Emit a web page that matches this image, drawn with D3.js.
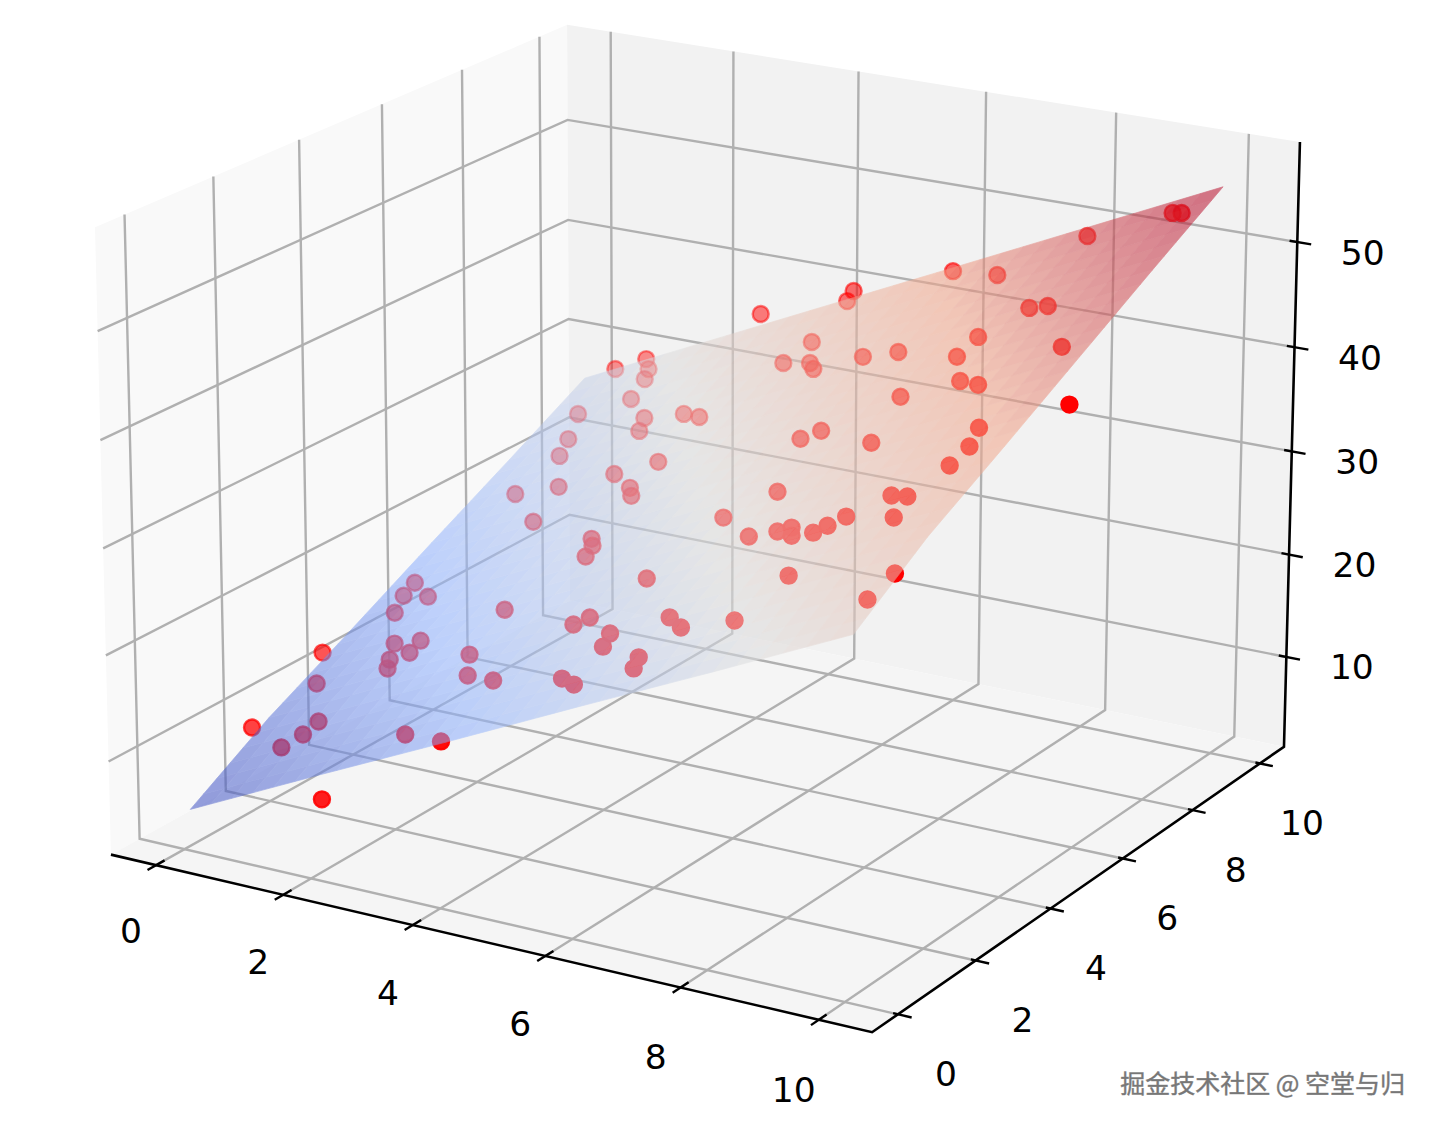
<!DOCTYPE html>
<html><head><meta charset="utf-8">
<script src="https://cdn.jsdelivr.net/npm/d3@7"></script>
<style>html,body{margin:0;padding:0;background:#fff}svg{display:block}text{font-family:"DejaVu Sans",sans-serif}</style>
</head><body><div id="chart"></div>
<script>
// ---- data ----
const xs=[9.44,9.62,8.13,5.98,6.97,8.20,8.54,4.42,4.29,2.94,4.32,4.11,4.68,4.86,5.68,6.32,7.68,7.60,9.50,8.08,8.50,7.16,10.57,6.16,5.88,
7.38,9.23,9.35,9.28,6.36,8.66,8.98,9.06,8.14,7.93,7.77,7.26,7.40,7.05,6.57,5.73,8.01,9.97,9.87,7.72,0.57,1.08,1.27,1.39,1.49,
0.61,2.17,2.32,2.96,3.35,0.91,1.06,3.34,2.63,1.67,3.24,3.42,0.86,1.82,3.40,3.55,3.61,5.27,2.92,4.82,4.62,6.41,6.80,5.51,5.60,
6.49,6.58,5.35,5.69,0.45,0.47,1.02,0.62,1.24,1.74,1.74,1.45,1.58,3.04,3.39,4.00,-0.15,0.35,1.15,1.07,0.86,-0.17,3.20,3.97,2.12];
const ys=[9.64,9.55,9.71,9.89,9.33,7.96,7.84,9.90,9.95,9.90,8.93,8.52,8.26,8.04,7.95,7.78,7.51,7.08,6.44,6.30,6.02,6.35,4.65,6.00,5.94,
5.19,4.72,4.25,3.86,4.52,3.46,3.30,2.81,3.21,3.10,3.01,3.34,3.10,3.34,3.43,4.20,1.98,1.23,0.72,1.13,9.90,9.90,9.65,9.35,8.82,
8.84,8.06,7.68,7.80,7.56,8.10,7.63,6.50,6.52,6.63,5.93,5.67,6.80,5.74,4.69,4.47,4.20,3.03,3.28,2.35,2.27,1.72,1.35,1.73,1.41,
0.83,0.56,0.82,0.56,4.89,4.58,4.34,4.13,3.18,3.05,2.78,2.74,2.49,2.23,1.64,1.30,3.52,2.63,1.48,1.23,1.03,1.85,0.44,0.10,0.10];
const zs=[53.29,53.63,49.59,43.60,45.32,46.04,46.82,39.96,38.74,36.08,36.68,35.17,36.31,36.36,38.61,40.12,43.57,42.42,46.68,42.18,42.83,39.56,46.02,35.88,34.91,
37.76,42.23,41.57,40.53,33.32,37.86,38.47,37.65,35.81,34.94,34.30,33.47,33.38,32.86,31.62,30.79,32.80,36.98,35.62,30.15,27.96,29.53,29.22,28.93,28.09,
25.54,28.47,28.11,30.28,30.90,24.84,24.28,28.62,26.57,23.95,27.13,27.10,21.94,22.53,24.95,24.93,24.53,26.94,20.54,24.17,23.43,27.53,27.88,24.88,24.47,
25.88,25.57,22.48,22.94,16.66,16.07,17.17,15.55,15.38,16.58,16.01,15.06,14.92,18.68,18.45,19.51,12.00,11.58,11.52,10.73,9.67,8.38,15.32,16.46,8.56];
const surfaceX=[0,2,4,6,8,10];
const surfaceY=[0.15,2,4,6,8,10];
const surfaceZ=[[4.6,10.5,16.3,22.2,28.0,33.9],[9.2,15.1,21.0,26.9,32.8,38.7],[13.4,19.3,25.2,31.1,37.0,42.9],[17.7,23.6,29.5,35.4,41.3,47.2],[21.9,27.8,33.7,39.6,45.6,51.5],[26.2,32.1,38.0,43.9,49.8,55.7]];
const xTicks=[0,2,4,6,8,10];
const yTicks=[0,2,4,6,8,10];
const zTicks=[10,20,30,40,50];
const xLimits=[-0.72,10.76],yLimits=[-0.65,10.73],zLimits=[1.15,59.43];
const coolwarmStops=["#3b4cc0","#8db0fe","#dddddd","#f2a488","#b40426"];
const watermark="掘金技术社区 @ 空堂与归";

// ---- scales and view ----
const W=1435,H=1126;
const nx=d3.scaleLinear().domain(xLimits).range([0,1]);
const ny=d3.scaleLinear().domain(yLimits).range([0,1]);
const nz=d3.scaleLinear().domain(zLimits).range([0,1]);
// camera matrix of the view box (unit cube -> page)
const cam=[710.3490,515.8612,-18.53119,110.9392,117.4691,-194.4145,-633.5988,854.6254,-0.05825270,0.09966016,-0.02703447];
const depth=p=>cam[8]*p[0]+cam[9]*p[1]+cam[10]*p[2]+1;
const proj=p=>{const w=depth(p);return [(cam[0]*p[0]+cam[1]*p[1]+cam[2]*p[2]+cam[3])/w,(cam[4]*p[0]+cam[5]*p[1]+cam[6]*p[2]+cam[7])/w]};
const colour=d3.scaleLinear().domain(d3.range(5).map(i=>i/4)).range(coolwarmStops).interpolate(d3.interpolateRgb);
const zExtent=d3.extent(surfaceZ.flat());
const zNorm=d3.scaleLinear().domain(zExtent).range([0,1]);
const path=d3.line();
const svg=d3.select("#chart").append("svg").attr("width",W).attr("height",H).attr("viewBox",`0 0 ${W} ${H}`);

// ---- panes ----
const panes=[
 {fill:"#f9f9f9",c:[[0,0,0],[0,1,0],[0,1,1],[0,0,1]]},
 {fill:"#f2f2f2",c:[[0,1,0],[1,1,0],[1,1,1],[0,1,1]]},
 {fill:"#f5f5f5",c:[[0,0,0],[1,0,0],[1,1,0],[0,1,0]]}];
svg.append("g").selectAll("path").data(panes).join("path").attr("d",d=>path(d.c.map(proj))+"Z").attr("fill",d=>d.fill);

// ---- grid ----
const gridSegs=[];
xTicks.forEach(t=>{const x=nx(t);gridSegs.push([[x,0,0],[x,1,0],[x,1,1]])});
yTicks.forEach(t=>{const y=ny(t);gridSegs.push([[1,y,0],[0,y,0],[0,y,1]])});
zTicks.forEach(t=>{const z=nz(t);gridSegs.push([[0,0,z],[0,1,z],[1,1,z]])});
svg.append("g").selectAll("path").data(gridSegs).join("path").attr("d",d=>path(d.map(proj))).attr("fill","none").attr("stroke","#b0b0b0").attr("stroke-width",2.4);

// ---- axes ----
const axisLines=[[[0,0,0],[1,0,0],[1,1,0],[1,1,1]]];
svg.append("g").selectAll("path").data(axisLines).join("path").attr("d",d=>path(d.map(proj))).attr("fill","none").attr("stroke","#000").attr("stroke-width",2.6);
const tickSegs=[
 ...xTicks.map(t=>[[nx(t),-0.017,0],[nx(t),0.017,0]]),
 ...yTicks.map(t=>[[0.994,ny(t),0],[1.017,ny(t),0]]),
 ...zTicks.map(t=>[[0.990,1,nz(t)],[1.018,1,nz(t)]])];
svg.append("g").selectAll("path").data(tickSegs).join("path").attr("d",d=>path(d.map(proj))).attr("stroke","#000").attr("stroke-width",2.4);

// ---- scatter (lies under the surface) ----
const pts=xs.map((x,i)=>{const p=[nx(x),ny(ys[i]),nz(zs[i])];return {xy:proj(p),w:depth(p)}});
const shade=d3.scaleLinear().domain([0.968,1.08]).range([1,0.38]).clamp(true);
svg.append("g").selectAll("circle").data(pts).join("circle")
 .attr("cx",d=>d.xy[0]).attr("cy",d=>d.xy[1]).attr("r",8)
 .attr("fill","#ff0000").attr("fill-opacity",d=>shade(d.w))
 .attr("stroke","#ff0000").attr("stroke-opacity",d=>shade(d.w)).attr("stroke-width",2.4);

// ---- surface ----
const sub=6,cells=[];
const lerp=(a,b,t)=>a+(b-a)*t;
for(let j=0;j<surfaceY.length-1;j++)for(let i=0;i<surfaceX.length-1;i++)for(let b=0;b<sub;b++)for(let a=0;a<sub;a++){
 const at=(s,t)=>{const x=lerp(surfaceX[i],surfaceX[i+1],s),y=lerp(surfaceY[j],surfaceY[j+1],t);
  const z=lerp(lerp(surfaceZ[j][i],surfaceZ[j][i+1],s),lerp(surfaceZ[j+1][i],surfaceZ[j+1][i+1],s),t);return [nx(x),ny(y),nz(z),z]};
 const c=[at(a/sub,b/sub),at((a+1)/sub,b/sub),at((a+1)/sub,(b+1)/sub),at(a/sub,(b+1)/sub)];
 cells.push({c,z:d3.mean(c,d=>d[3])});
}
svg.append("g").attr("opacity",0.55).selectAll("path").data(cells).join("path")
 .attr("d",d=>path(d.c.map(proj))+"Z").attr("fill",d=>colour(zNorm(d.z))).attr("stroke",d=>colour(zNorm(d.z))).attr("stroke-width",0.7).attr("stroke-linejoin","round");

// ---- tick labels ----
const labels=[
 ...xTicks.map(t=>{const q=proj([nx(t),0,0]);return {t,x:q[0]-25,y:q[1]+66+0.4*t}}),
 ...yTicks.map(t=>{const q=proj([1,ny(t),0]);return {t,x:q[0]+48-0.6*t,y:q[1]+59.5}}),
 ...zTicks.map(t=>{const q=proj([1,1,nz(t)]);return {t,x:q[0]+65.5,y:q[1]+10.5}})];
svg.append("g").selectAll("text").data(labels).join("text").attr("x",d=>d.x).attr("y",d=>d.y)
 .attr("text-anchor","middle").attr("dominant-baseline","central").attr("font-size",34.5).attr("fill","#000").text(d=>d.t);

// ---- watermark ----
svg.append("text").attr("x",1405).attr("y",1082).attr("text-anchor","end").attr("dominant-baseline","central")
 .style("font-family",'"Noto Sans CJK SC"').attr("font-size",25).attr("fill","#777").attr("stroke","#999").attr("stroke-width",0.5).attr("paint-order","stroke").text(watermark);
</script></body></html>
